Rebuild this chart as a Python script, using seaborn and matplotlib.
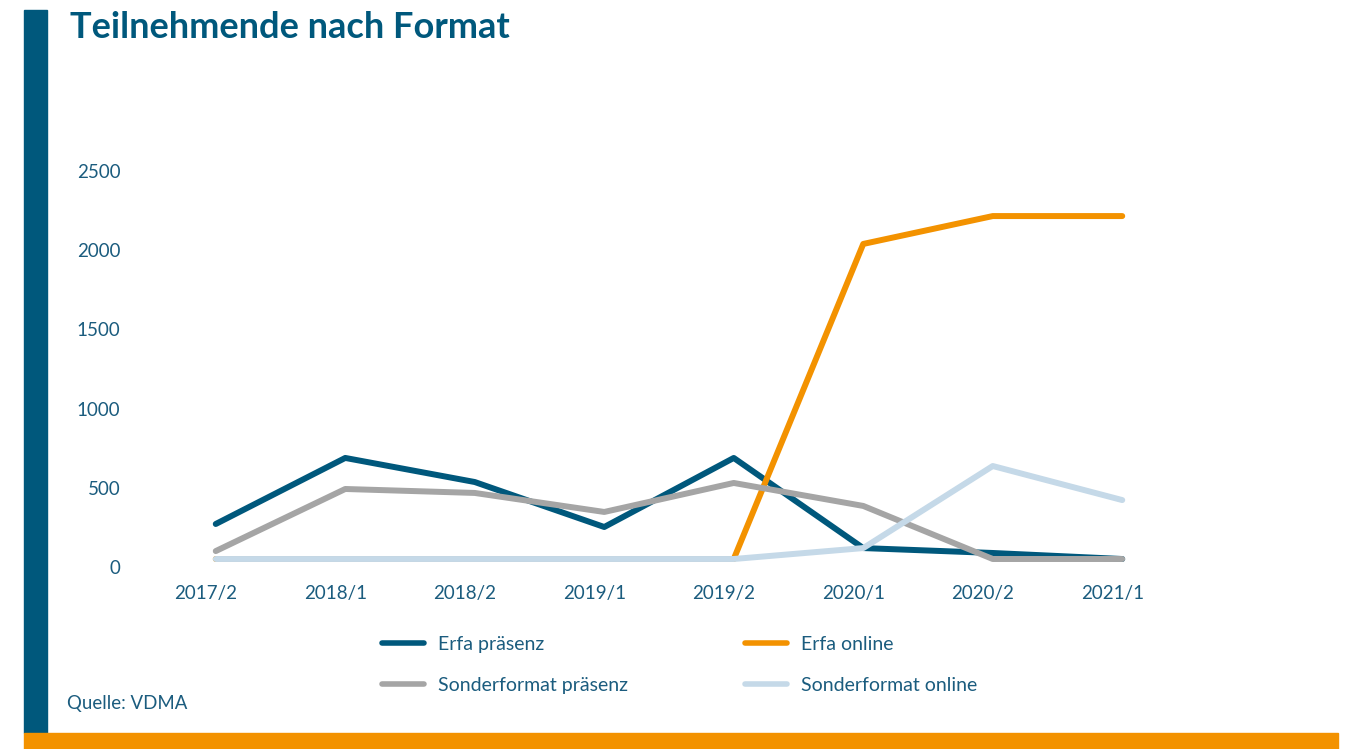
import matplotlib
matplotlib.use("Agg")
import matplotlib.pyplot as plt
import matplotlib.transforms as mtransforms
from matplotlib.patches import Rectangle
from matplotlib.lines import Line2D
import pandas as pd
import seaborn as sns

# Daten
periods = ['2017/2', '2018/1', '2018/2', '2019/1', '2019/2', '2020/1', '2020/2', '2021/1']
erfa_praesenz = [221, 638, 486, 202, 638, 69, 38, 0]
erfa_online = [0, 0, 0, 0, 0, 1989, 2165, 2165]
sonder_praesenz = [50, 442, 417, 297, 480, 335, 0, 0]
sonder_online = [0, 0, 0, 0, 0, 69, 587, 372]
series_names = ['Erfa präsenz', 'Erfa online', 'Sonderformat präsenz', 'Sonderformat online']
y_ticks = [0, 500, 1000, 1500, 2000, 2500]

colors = ['#00587C', '#F39200', '#A5A5A5', '#C5D9E8']
text_color = '#1B5C7E'

sns.set_theme(style="white")
plt.rcParams['font.family'] = ['Lato', 'DejaVu Sans']

df = pd.DataFrame({
    'Periode': periods * 4,
    'Wert': erfa_praesenz + erfa_online + sonder_praesenz + sonder_online,
    'Format': sum([[n] * len(periods) for n in series_names], []),
})

fig = plt.figure(figsize=(13.47, 7.49), dpi=100)
ax = fig.add_axes([151 / 1347, 190 / 749, 1036 / 1347, 396 / 749])

sns.lineplot(data=df, x='Periode', y='Wert', hue='Format', hue_order=series_names,
             palette=colors, linewidth=4.3, ax=ax, legend=False, sort=False,
             solid_capstyle='round', clip_on=False)

ax.set_xlim(-0.5, len(periods) - 0.5)
ax.set_ylim(0, 2500)
ax.set_yticks(y_ticks)
ax.set_xlabel('')
ax.set_ylabel('')
for s in ax.spines.values():
    s.set_visible(False)
ax.tick_params(axis='both', length=0, colors=text_color, labelsize=13.5)
ax.tick_params(axis='x', pad=19)
ax.tick_params(axis='y', pad=22)

# Excel-Beschriftungen sitzen etwas versetzt
y_off = mtransforms.ScaledTranslation(0, -8 / 100, fig.dpi_scale_trans)
for lab in ax.get_yticklabels():
    lab.set_transform(lab.get_transform() + y_off)
x_off = mtransforms.ScaledTranslation(-10 / 100, 0, fig.dpi_scale_trans)
for lab in ax.get_xticklabels():
    lab.set_transform(lab.get_transform() + x_off)

# Legende, zeilenweise wie im Original
order = [0, 2, 1, 3]
handles = [Line2D([0], [0], color=colors[i], linewidth=4) for i in order]
labels = [series_names[i] for i in order]
leg = fig.legend(handles, labels, ncol=2, loc='upper left', bbox_to_anchor=(382 / 1347, 1 - 636 / 749),
                 frameon=False, fontsize=14, handlelength=2.15, columnspacing=6.0,
                 labelspacing=1.22, handletextpad=0.75, borderpad=0, borderaxespad=0)
for t in leg.get_texts():
    t.set_color(text_color)

# Titel, Quelle, Balken
fig.text(70 / 1347, 1 - 27 / 749, 'Teilnehmende nach Format', fontsize=26, fontweight='bold',
         color='#00587C', va='center', ha='left')
fig.text(67 / 1347, 1 - 703 / 749, 'Quelle: VDMA', fontsize=13.4, color=text_color,
         va='center', ha='left')
fig.add_artist(Rectangle((24 / 1347, 16 / 749), 23 / 1347, 723 / 749,
                         transform=fig.transFigure, color='#00587C', zorder=0))
fig.add_artist(Rectangle((24 / 1347, 0), 1314 / 1347, 16 / 749,
                         transform=fig.transFigure, color='#F39200', zorder=0))

fig.savefig('out.png', dpi=100)
